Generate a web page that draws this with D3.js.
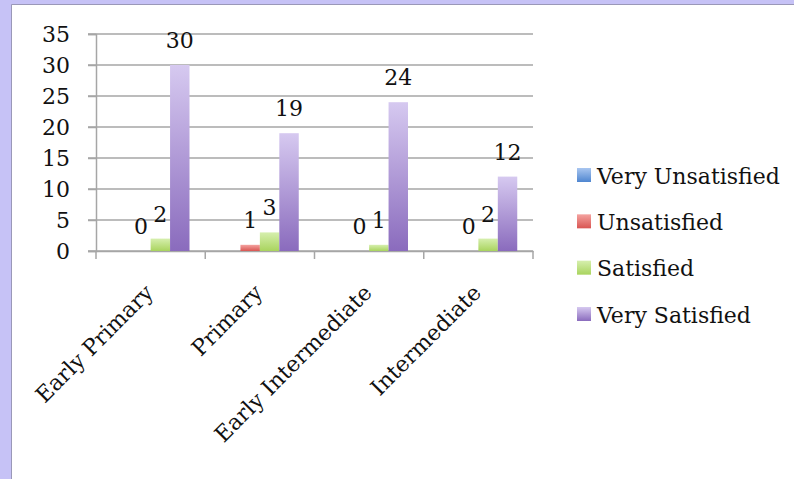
<!DOCTYPE html>
<html>
<head>
<meta charset="utf-8">
<script src="https://cdn.jsdelivr.net/npm/d3@7"></script>
<style>
html,body{margin:0;padding:0;background:#c6c2f6;}
svg{display:block;}
</style>
</head>
<body>
<svg id="chart" width="794" height="479"></svg>
<script>
const categories = ["Early Primary", "Primary", "Early Intermediate", "Intermediate"];
const seriesNames = ["Very Unsatisfied", "Unsatisfied", "Satisfied", "Very Satisfied"];
const veryUnsatisfied = [null, null, null, null];
const unsatisfied = [0, 1, 0, 0];
const satisfied = [2, 3, 1, 2];
const verySatisfied = [30, 19, 24, 12];
const yTicks = [0, 5, 10, 15, 20, 25, 30, 35];
const seriesValues = [veryUnsatisfied, unsatisfied, satisfied, verySatisfied];
const seriesColors = [
  ["#a9c6f0", "#4f86d0"],
  ["#f4a3a0", "#d95552"],
  ["#d6efae", "#a9d45e"],
  ["#d6c9f0", "#8a6bbd"]
];

(function () {
const svg = d3.select("#chart");
const font = "'DejaVu Serif', serif";

// panel
svg.append("rect").attr("x", 0).attr("y", 0).attr("width", 794).attr("height", 479).attr("fill", "#c6c2f6");
svg.append("rect").attr("x", 12).attr("y", 5).attr("width", 782).attr("height", 474).attr("fill", "#ffffff");
svg.append("line").attr("x1", 11.5).attr("x2", 11.5).attr("y1", 4.5).attr("y2", 479).attr("stroke", "#9a98b8").attr("stroke-width", 1);
svg.append("line").attr("x1", 11.5).attr("x2", 794).attr("y1", 4.5).attr("y2", 4.5).attr("stroke", "#9a98b8").attr("stroke-width", 1);

const defs = svg.append("defs");
seriesColors.forEach((c, i) => {
  const g = defs.append("linearGradient").attr("id", "grad" + i)
    .attr("x1", 0).attr("y1", 0).attr("x2", 0).attr("y2", 1);
  g.append("stop").attr("offset", "0%").attr("stop-color", c[0]);
  g.append("stop").attr("offset", "100%").attr("stop-color", c[1]);
});

const pLeft = 96, pRight = 533, pTop = 34, pBottom = 251;
const x0 = d3.scaleBand().domain(categories).range([pLeft, pRight]).paddingInner(0).paddingOuter(0);
const x1 = d3.scaleBand().domain(seriesNames).range([15.75, x0.bandwidth() - 15.75]).padding(0);
const y = d3.scaleLinear().domain([0, 35]).range([pBottom, pTop]);

const gridColor = "#a6a6a6";

// gridlines
svg.append("g").selectAll("line").data(yTicks).join("line")
  .attr("x1", pLeft - 8).attr("x2", pRight)
  .attr("y1", d => y(d)).attr("y2", d => y(d))
  .attr("stroke", gridColor).attr("stroke-width", 1.5);

// y axis
const yAxis = d3.axisLeft(y).tickValues(yTicks).tickSize(8).tickPadding(18);
const ya = svg.append("g").attr("transform", `translate(${pLeft},0)`).call(yAxis);
ya.select(".domain").attr("stroke", gridColor).attr("stroke-width", 1.5);
ya.selectAll(".tick line").attr("stroke", gridColor).attr("stroke-width", 1.5);
ya.selectAll(".tick text").attr("font-family", font).attr("font-size", 22).attr("fill", "#111").attr("dy", "0.35em");

// x axis
const xAxis = d3.axisBottom(x0).tickValues([]).tickSizeOuter(0);
const xa = svg.append("g").attr("transform", `translate(0,${pBottom})`).call(xAxis);
xa.select(".domain").attr("stroke", gridColor).attr("stroke-width", 1.5);
const boundaries = categories.map(c => x0(c)).concat([pRight]);
xa.selectAll("line.bt").data(boundaries).join("line").attr("class", "bt")
  .attr("x1", d => d).attr("x2", d => d).attr("y1", 0).attr("y2", 8)
  .attr("stroke", gridColor).attr("stroke-width", 1.5);

// category labels
svg.append("g").selectAll("text").data(categories).join("text")
  .attr("transform", d => `translate(${x0(d) + x0.bandwidth() / 2 + 4},${pBottom + 43}) rotate(-45)`)
  .attr("text-anchor", "end")
  .attr("font-family", font).attr("font-size", 22).attr("fill", "#111")
  .text(d => d);

// bars
const flat = [];
seriesNames.forEach((s, si) => {
  categories.forEach((c, ci) => {
    flat.push({ s, si, c, v: seriesValues[si][ci] });
  });
});
svg.append("g").selectAll("rect").data(flat.filter(d => d.v !== null && d.v > 0)).join("rect")
  .attr("x", d => x0(d.c) + x1(d.s))
  .attr("width", x1.bandwidth())
  .attr("y", d => y(d.v))
  .attr("height", d => y(0) - y(d.v))
  .attr("fill", d => `url(#grad${d.si})`);

// data labels
svg.append("g").selectAll("text").data(flat.filter(d => d.v !== null)).join("text")
  .attr("x", d => x0(d.c) + x1(d.s) + x1.bandwidth() / 2)
  .attr("y", d => y(d.v) - 17)
  .attr("text-anchor", "middle")
  .attr("font-family", font).attr("font-size", 22).attr("fill", "#111")
  .text(d => d.v);

// legend
const lg = svg.append("g").attr("transform", "translate(577,0)");
const legendY = d3.scalePoint().domain(seriesNames).range([176, 315]);
lg.selectAll("rect").data(seriesNames).join("rect")
  .attr("x", 0).attr("y", d => legendY(d) - 8).attr("width", 14).attr("height", 14)
  .attr("fill", (d, i) => `url(#grad${i})`);
lg.selectAll("text").data(seriesNames).join("text")
  .attr("x", 20).attr("y", d => legendY(d)).attr("dy", "0.35em")
  .attr("font-family", font).attr("font-size", 22).attr("fill", "#111")
  .text(d => d);
})();
</script>
</body>
</html>
